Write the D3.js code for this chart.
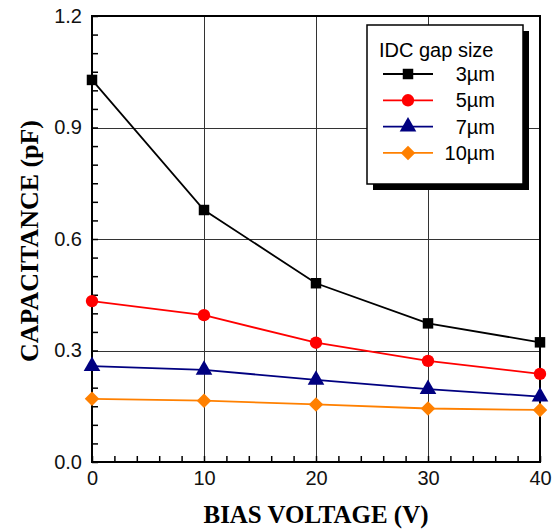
<!DOCTYPE html>
<html><head><meta charset="utf-8">
<script src="https://cdn.jsdelivr.net/npm/d3@7"></script>
<style>body{margin:0;background:#fff}svg{display:block}</style>
</head><body><svg id="c" width="560" height="531"></svg>
<script>
const voltages = [0, 10, 20, 30, 40];
const seriesNames = ["3\u00b5m", "5\u00b5m", "7\u00b5m", "10\u00b5m"];
const s3 = [1.028, 0.678, 0.481, 0.373, 0.322];
const s5 = [0.433, 0.395, 0.321, 0.272, 0.237];
const s7 = [0.258, 0.248, 0.221, 0.196, 0.176];
const s10 = [0.170, 0.165, 0.155, 0.144, 0.140];
const xTicks = [0, 10, 20, 30, 40];
const yTicks = [0.0, 0.3, 0.6, 0.9, 1.2];
const colors = ["#000000", "#ff0000", "#000080", "#ff8000"];
const allSeries = [s3, s5, s7, s10];

const diamond = {
  draw(ctx, size) {
    const r = Math.sqrt(size / 2);
    ctx.moveTo(0, -r); ctx.lineTo(r, 0); ctx.lineTo(0, r); ctx.lineTo(-r, 0); ctx.closePath();
  }
};
const symbols = [d3.symbolSquare, d3.symbolCircle, d3.symbolTriangle, diamond];
const sizes = [110, 120, 120, 105];

const svg = d3.select("#c");
const L = 92, R = 540, T = 16, B = 462;
const x = d3.scaleLinear().domain([0, 40]).range([L, R]);
const y = d3.scaleLinear().domain([0, 1.2]).range([B, T]);

// grid
const g = svg.append("g").attr("shape-rendering", "crispEdges");
g.selectAll(".gx").data(xTicks.slice(1, -1)).join("line")
  .attr("x1", d => x(d) + 0.5).attr("x2", d => x(d) + 0.5).attr("y1", T).attr("y2", B)
  .attr("stroke", "#333").attr("stroke-width", 1);
g.selectAll(".gy").data(yTicks.slice(1, -1)).join("line")
  .attr("y1", d => y(d) + 0.5).attr("y2", d => y(d) + 0.5).attr("x1", L).attr("x2", R)
  .attr("stroke", "#333").attr("stroke-width", 1);

// axes with inward ticks
const xMinor = d3.range(0, 40.01, 2);
const yMinor = d3.range(0, 1.2001, 0.05);
svg.append("g").attr("transform", `translate(0,${B})`)
  .call(d3.axisBottom(x).tickValues(xMinor).tickSize(-6).tickFormat(""))
  .call(a => a.select(".domain").remove())
  .selectAll("line").attr("stroke", "#000").attr("stroke-width", 1.5);
svg.append("g").attr("transform", `translate(${L},0)`)
  .call(d3.axisLeft(y).tickValues(yMinor).tickSize(-6).tickFormat(""))
  .call(a => a.select(".domain").remove())
  .selectAll("line").attr("stroke", "#000").attr("stroke-width", 1.5);

// tick labels
svg.append("g").attr("transform", `translate(0,${B})`)
  .call(d3.axisBottom(x).tickValues(xTicks).tickSize(0).tickPadding(9).tickFormat(d3.format("d")))
  .call(a => a.select(".domain").remove())
  .selectAll("text").attr("font-family", "Liberation Sans, Arial, sans-serif").attr("font-size", 20).attr("fill", "#111");
svg.append("g").attr("transform", `translate(${L},0)`)
  .call(d3.axisLeft(y).tickValues(yTicks).tickSize(0).tickPadding(10).tickFormat(d3.format(".1f")))
  .call(a => a.select(".domain").remove())
  .selectAll("text").attr("font-family", "Liberation Sans, Arial, sans-serif").attr("font-size", 20).attr("fill", "#111");

// frame
svg.append("rect").attr("x", L).attr("y", T).attr("width", R - L).attr("height", B - T)
  .attr("fill", "none").attr("stroke", "#000").attr("stroke-width", 2);

// series
const line = d3.line().x((d, i) => x(voltages[i])).y(d => y(d));
allSeries.forEach((s, k) => {
  svg.append("path").datum(s).attr("d", line).attr("fill", "none")
    .attr("stroke", colors[k]).attr("stroke-width", 1.8);
  svg.selectAll(null).data(s).join("path")
    .attr("transform", (d, i) => `translate(${x(voltages[i])},${y(d)})`)
    .attr("d", d3.symbol().type(symbols[k]).size(sizes[k])).attr("fill", colors[k]);
});

// legend
const lx = 367, ly = 25, lw = 156, lh = 159;
svg.append("rect").attr("x", lx + 6).attr("y", ly + 6).attr("width", lw).attr("height", lh).attr("fill", "#000");
svg.append("rect").attr("x", lx).attr("y", ly).attr("width", lw).attr("height", lh)
  .attr("fill", "#fff").attr("stroke", "#000").attr("stroke-width", 1.5);
svg.append("text").attr("x", 379).attr("y", 57).text("IDC gap size")
  .attr("font-family", "Liberation Sans, Arial, sans-serif").attr("font-size", 20).attr("fill", "#000");
seriesNames.forEach((n, k) => {
  const yy = 74 + k * 26.3;
  svg.append("line").attr("x1", 383).attr("x2", 433).attr("y1", yy).attr("y2", yy)
    .attr("stroke", colors[k]).attr("stroke-width", 1.8);
  svg.append("path").attr("transform", `translate(408,${yy})`)
    .attr("d", d3.symbol().type(symbols[k]).size(sizes[k])).attr("fill", colors[k]);
  svg.append("text").attr("x", 495).attr("y", yy + 7).attr("text-anchor", "end").text(n)
    .attr("font-family", "Liberation Sans, Arial, sans-serif").attr("font-size", 20).attr("fill", "#000");
});

// axis titles
svg.append("text").attr("x", 316).attr("y", 523).attr("text-anchor", "middle").text("BIAS VOLTAGE (V)")
  .attr("font-family", "Liberation Serif, Times New Roman, serif").attr("font-weight", "bold").attr("font-size", 25)
  .attr("textLength", 225).attr("lengthAdjust", "spacingAndGlyphs");
svg.append("text").attr("transform", `translate(38,241) rotate(-90)`).attr("text-anchor", "middle")
  .text("CAPACITANCE (pF)")
  .attr("font-family", "Liberation Serif, Times New Roman, serif").attr("font-weight", "bold").attr("font-size", 25)
  .attr("textLength", 242).attr("lengthAdjust", "spacingAndGlyphs");
</script></body></html>
